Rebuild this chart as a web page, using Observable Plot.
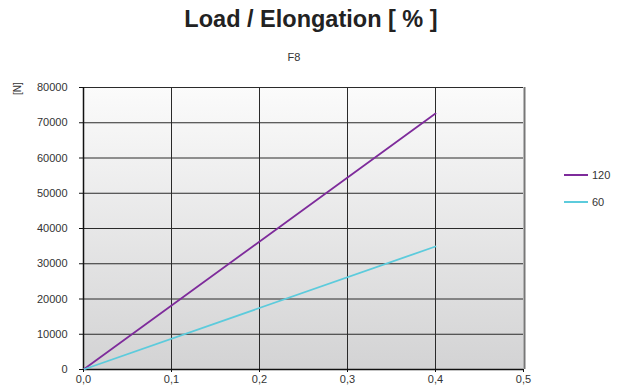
<!DOCTYPE html>
<html><head><meta charset="utf-8">
<script src="https://cdn.jsdelivr.net/npm/d3@7"></script>
<script src="https://cdn.jsdelivr.net/npm/@observablehq/plot@0.6"></script>
<style>
body{margin:0;background:#fff;font-family:"Liberation Sans",Arial,sans-serif;}
#wrap{position:relative;width:625px;height:392px;}
.t{position:absolute;color:#222;}
</style></head><body>
<div id="wrap">
<div class="t" id="title" style="left:0;width:622px;top:6px;text-align:center;font:bold 23.5px 'Liberation Sans',Arial,sans-serif;">Load / Elongation [ % ]</div>
<div class="t" style="left:0;width:588px;top:51px;text-align:center;font-size:11px;color:#333;">F8</div>
<div class="t" style="left:12px;font-size:10px;color:#333;transform:rotate(-90deg);transform-origin:left top;top:95px;">[N]</div>
<div id="legend"></div>
</div>
<script>
const elongation = [0.0, 0.4];
const load120 = [0, 72600];
const load60 = [0, 34900];
const seriesNames = ["120", "60"];
const seriesColors = ["#7e2b9b", "#5ccbdc"];
const xTicks = [0, 0.1, 0.2, 0.3, 0.4, 0.5];
const yTicks = [0, 10000, 20000, 30000, 40000, 50000, 60000, 70000, 80000];

const rows = [];
elongation.forEach((x, i) => {
  rows.push({x, y: load120[i], s: seriesNames[0]});
  rows.push({x, y: load60[i], s: seriesNames[1]});
});

const bgDefs = () => {
  const ns = "http://www.w3.org/2000/svg";
  const g = document.createElementNS(ns, "defs");
  g.innerHTML = `<linearGradient id="bg" x1="0" y1="0" x2="0" y2="1">
    <stop offset="0" stop-color="#fbfbfb"/><stop offset="1" stop-color="#d3d3d4"/></linearGradient>`;
  return g;
};
const fmtX = d => d.toFixed(1).replace(".", ",");
const fmtY = d => String(d);

const chart = Plot.plot({
  width: 625, height: 392,
  marginLeft: 83, marginRight: 102, marginTop: 87, marginBottom: 23,
  style: {fontFamily: "'Liberation Sans',Arial,sans-serif", fontSize: "11px", color: "#333", background: "transparent"},
  x: {domain: [0, 0.5], label: null},
  y: {domain: [0, 80000], label: null},
  color: {domain: seriesNames, range: seriesColors},
  marks: [
    bgDefs,
    Plot.frame({fill: "url(#bg)", stroke: null}),
    Plot.ruleX(xTicks.slice(1, -1), {stroke: "#2a2a2a", strokeWidth: 1}),
    Plot.ruleY(yTicks.slice(1), {stroke: "#2a2a2a", strokeWidth: 1}),
    Plot.ruleX([0.5], {stroke: "#777", strokeWidth: 2, dx: 1}),
    Plot.ruleX([0], {stroke: "#111", strokeWidth: 1.5}),
    Plot.ruleY([0], {stroke: "#111", strokeWidth: 1.5}),
    Plot.line(rows, {x: "x", y: "y", z: "s", stroke: "s", strokeWidth: 1.8}),
    Plot.axisX({ticks: xTicks, tickFormat: fmtX, tickSize: 3, tickPadding: 3, stroke: "#111", label: null}),
    Plot.axisY({ticks: yTicks, tickFormat: fmtY, tickSize: 4, tickPadding: 12, stroke: "#111", label: null})
  ]
});
chart.style.position = "absolute";
chart.style.left = "0"; chart.style.top = "0";
document.getElementById("wrap").prepend(chart);

const leg = document.getElementById("legend");
seriesNames.forEach((n, i) => {
  const d = document.createElement("div");
  d.className = "t";
  d.style.cssText = `left:564px;top:${169 + i * 27}px;font-size:11px;color:#333;display:flex;align-items:center;gap:4px;`;
  d.innerHTML = `<span style="display:inline-block;width:24px;height:2px;background:${seriesColors[i]}"></span><span>${n}</span>`;
  leg.appendChild(d);
});
</script>
</body></html>
